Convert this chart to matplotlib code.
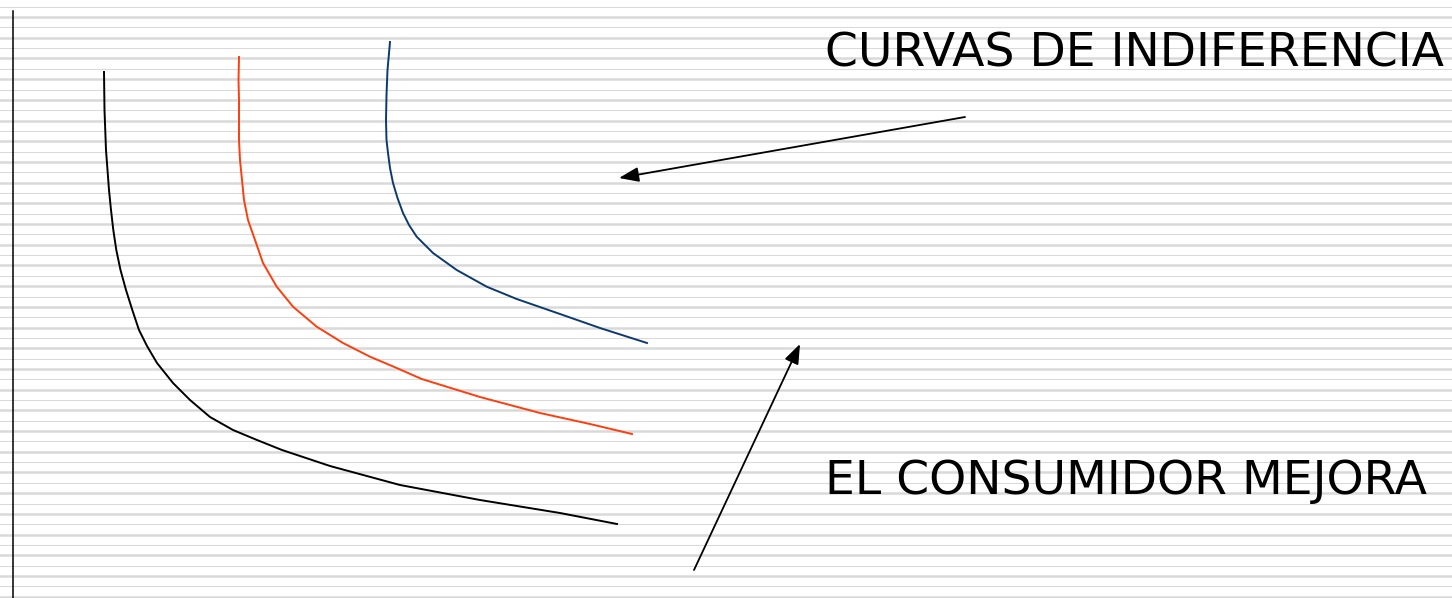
import numpy as np
import matplotlib
matplotlib.use("Agg")
import matplotlib.pyplot as plt

W, H = 1452, 598

# Indifference curves (pixel coordinates)
black_x = [104, 104.5, 106, 109, 111, 113.3, 116.3, 120.5, 126, 132.3, 139, 147, 157, 173, 190, 210,
           233, 257, 282, 330, 400, 480, 560, 617]
black_y = [72, 110, 150, 190, 210, 230, 250, 270, 290, 310, 330, 346, 363, 383, 400, 417,
           430, 440, 450, 466, 485, 500, 513, 524]

red_x = [239, 238.5, 239, 239, 240, 242, 244, 248, 255, 263, 276.7, 293, 316.7, 343, 370, 396.7, 421.7,
         480, 540, 590, 632]
red_y = [57, 80, 100, 140, 160, 180, 200, 220, 240, 263, 286.7, 306.7, 326.7, 343, 356.7, 368, 379,
         397, 413, 424, 434]

blue_x = [390, 387.5, 386.5, 386, 386.5, 388, 390, 393, 397.5, 403, 409, 416.7, 433, 456.7, 486.7, 516.7,
          560, 600, 647]
blue_y = [42, 70, 95, 120, 140, 153, 168, 183, 198, 213, 225, 236.7, 253, 270, 286.7, 299,
          314, 328, 343]

labels = ["CURVAS DE INDIFERENCIA", "EL CONSUMIDOR MEJORA"]

fig = plt.figure(figsize=(W / 100, H / 100), dpi=100)
ax = fig.add_axes([0, 0, 1, 1])
ax.set_xlim(0, W)
ax.set_ylim(H, 0)
ax.axis("off")

# striped background
ys = np.arange(6.7, H + 5, 10.35)
for i, y in enumerate(ys):
    ax.axhline(y, color="#d9d9d9", lw=0.75 if i % 2 == 0 else 1.8, zorder=0)

# left vertical line
ax.plot([13, 13], [11, H], color="black", lw=1.1, zorder=2)

ax.plot(black_x, black_y, color="black", lw=1.4, zorder=3, solid_joinstyle="round")
ax.plot(red_x, red_y, color="#ff3d0d", lw=1.4, zorder=3, solid_joinstyle="round")
ax.plot(blue_x, blue_y, color="#0b3a6e", lw=1.4, zorder=3, solid_joinstyle="round")

arrow_kw = dict(arrowstyle="-|>,head_length=1.2,head_width=0.45", color="black", lw=1.3,
                shrinkA=0, shrinkB=0)
ax.annotate("", xy=(619, 178), xytext=(965, 117), arrowprops=arrow_kw, zorder=4)
ax.annotate("", xy=(800, 344), xytext=(694, 570), arrowprops=arrow_kw, zorder=4)

ax.text(825, 54, labels[0], fontsize=34, va="center", ha="left", family="DejaVu Sans")
ax.text(825, 481, labels[1], fontsize=34, va="center", ha="left", family="DejaVu Sans")

fig.savefig("out.png", dpi=100)
